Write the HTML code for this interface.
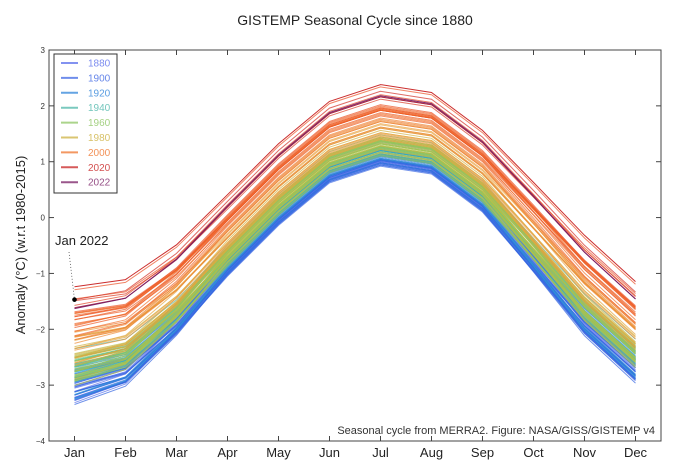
<!DOCTYPE html>
<html><head><meta charset="utf-8">
<style>
html,body{margin:0;padding:0;background:#fff;}
svg{display:block;font-family:"Liberation Sans","DejaVu Sans",sans-serif;}
</style></head>
<body>
<svg id="chart" width="695" height="470" viewBox="0 0 695 470" xmlns="http://www.w3.org/2000/svg">
<text x="355" y="25" text-anchor="middle" font-size="14" fill="#222">GISTEMP Seasonal Cycle since 1880</text>
<text transform="translate(25,245) rotate(-90)" text-anchor="middle" font-size="13" fill="#222">Anomaly (°C) (w.r.t 1980-2015)</text>
<g id="plot"></g>
</svg>
<script>
const months = ["Jan","Feb","Mar","Apr","May","Jun","Jul","Aug","Sep","Oct","Nov","Dec"];
const climatology = [-2.15,-1.95,-1.22,-0.25,0.66,1.42,1.72,1.58,0.9,-0.1,-1.12,-1.95];
const monthSensitivity = [1.35,1.25,1.1,1.0,1.0,1.0,1.0,1.0,1.0,1.1,1.2,1.2];
const firstYear = 1880;
const yearOffsets = [
-0.62,-0.58,-0.60,-0.68,-0.72,-0.70,-0.66,-0.74,-0.62,-0.50,
-0.68,-0.66,-0.72,-0.74,-0.70,-0.68,-0.55,-0.52,-0.70,-0.58,
-0.52,-0.60,-0.68,-0.74,-0.80,-0.66,-0.60,-0.76,-0.78,-0.76,
-0.74,-0.78,-0.70,-0.68,-0.50,-0.46,-0.68,-0.74,-0.64,-0.60,
-0.58,-0.52,-0.62,-0.60,-0.58,-0.52,-0.44,-0.52,-0.52,-0.66,
-0.46,-0.40,-0.48,-0.60,-0.46,-0.52,-0.46,-0.36,-0.36,-0.38,
-0.30,-0.28,-0.34,-0.34,-0.24,-0.34,-0.46,-0.48,-0.46,-0.48,
-0.58,-0.44,-0.40,-0.32,-0.54,-0.56,-0.62,-0.34,-0.36,-0.40,
-0.44,-0.36,-0.40,-0.36,-0.60,-0.54,-0.46,-0.44,-0.48,-0.34,
-0.40,-0.50,-0.42,-0.30,-0.50,-0.44,-0.56,-0.28,-0.38,-0.28,
-0.20,-0.16,-0.32,-0.12,-0.30,-0.32,-0.24,-0.10,-0.06,-0.20,
0.00,-0.04,-0.26,-0.22,-0.12,0.02,-0.10,0.06,0.22,0.04,
0.00,0.14,0.20,0.20,0.12,0.26,0.20,0.24,0.10,0.22,
0.28,0.16,0.20,0.24,0.30,0.44,0.62,0.48,0.40,0.54,
0.66,0.44,0.46];
const winterNoise = [
0.12,-0.18,0.05,0.20,-0.10,-0.22,0.08,0.15,-0.05,0.18,
-0.15,0.10,0.22,-0.08,0.04,-0.20,0.14,-0.12,0.06,0.19,
-0.09,0.16,-0.21,0.03,0.11,-0.14,0.21,-0.06,0.09,-0.17,
0.13,-0.04,0.18,-0.19,0.07,0.15,-0.11,0.02,-0.16,0.20,
-0.07,0.12,-0.18,0.09,-0.02,0.17,-0.13,0.06,0.14,-0.20,
0.10,-0.15,0.04,0.19,-0.08,0.13,-0.17,0.07,-0.03,0.16,
-0.12,0.18,-0.06,0.11,-0.19,0.05,0.14,-0.10,0.21,-0.04,
0.08,-0.16,0.15,-0.09,0.12,-0.02,0.17,-0.14,0.06,-0.18,
0.13,-0.07,0.19,-0.11,0.03,0.16,-0.15,0.09,-0.05,0.14,
-0.13,0.07,-0.18,0.12,-0.06,0.17,-0.10,0.04,0.15,-0.08,
0.11,-0.14,0.06,0.18,-0.09,0.13,-0.04,0.16,-0.12,0.08,
-0.05,0.15,-0.10,0.07,0.17,-0.13,0.10,-0.06,0.14,-0.09,
0.12,-0.08,0.16,-0.04,0.09,-0.14,0.13,0.05,-0.10,0.15,
-0.06,0.11,-0.09,0.14,-0.03,0.10,0.02,-0.07,0.12,-0.05,
0.02,-0.06,-0.10];
const legendYears = [1880,1900,1920,1940,1960,1980,2000,2020,2022];
const yTicks = [3,2,1,0,-1,-2,-3,-4];
const janHighlight = -1.47;

const NS="http://www.w3.org/2000/svg";
const plot=document.getElementById('plot');
const L=49,R=661,T=50,B=441,yMax=3,yMin=-4;
const xS=i=>L+(i+0.5)*(R-L)/12;
const yS=v=>T+(yMax-v)*(B-T)/(yMax-yMin);
function el(t,a,p){const e=document.createElementNS(NS,t);for(const k in a)e.setAttribute(k,a[k]);(p||plot).appendChild(e);return e;}
const stops=[[1880,[90,110,235]],[1910,[50,100,225]],[1930,[45,165,210]],[1950,[110,200,130]],[1970,[175,195,70]],[1990,[235,160,60]],[2003,[240,105,40]],[2016,[235,80,35]],[2020,[200,35,35]],[2022,[120,30,100]]];
function col(y){for(let i=0;i<stops.length-1;i++){const a=stops[i],b=stops[i+1];if(y<=b[0]){const t=(y-a[0])/(b[0]-a[0]);const c=a[1].map((v,k)=>Math.round(v+(b[1][k]-v)*t));return `rgb(${c})`;}}return 'rgb(120,30,100)';}
const winterWeight=[1,0.7,0.3,0,0,0,0,0,0,0.2,0.5,0.6];

const cp=el('clipPath',{id:'cp'});
el('rect',{x:L,y:T,width:R-L,height:B-T},cp);
const lines=el('g',{'clip-path':'url(#cp)'});


yearOffsets.forEach((o,i)=>{
  const yr=firstYear+i;
  const n=winterNoise[i]||0;
  const pts=climatology.map((c,m)=>xS(m).toFixed(1)+','+yS(c+o*monthSensitivity[m]+n*winterWeight[m]).toFixed(1)).join(' ');
  const pl=el('polyline',{points:pts,fill:'none',stroke:col(yr),'stroke-width':1,'stroke-opacity':yr>=2020?0.95:0.7},lines);
  
  
});
const fr=el('rect',{x:L,y:T,width:R-L,height:B-T,fill:'none',stroke:'#444','stroke-width':1});


yTicks.forEach(v=>{
  const y=yS(v);
  el('line',{x1:L,x2:L+5,y1:y,y2:y,stroke:'#444'});
  el('line',{x1:R,x2:R-5,y1:y,y2:y,stroke:'#444'});
  const t=el('text',{x:L-4,y:y+3,'text-anchor':'end','font-size':8,fill:'#333'});
  t.textContent=v<0?'\u2212'+(-v):String(v);
  
  
});
months.forEach((m,i)=>{
  const x=xS(i);
  el('line',{x1:x,x2:x,y1:B,y2:B-5,stroke:'#444'});
  el('line',{x1:x,x2:x,y1:T,y2:T+5,stroke:'#444'});
  const t=el('text',{x:x,y:457,'text-anchor':'middle','font-size':13,fill:'#222'});
  t.textContent=m;
  
  
});
const lg=el('g',{});


el('rect',{x:54,y:54,width:63,height:139,fill:'#fff',stroke:'#333','stroke-width':1},lg);
legendYears.forEach((y,i)=>{
  const yy=63+i*14.9;
  const g=el('g',{},lg);
  
  
  el('line',{x1:61,x2:78,y1:yy,y2:yy,stroke:col(y),'stroke-width':2,'stroke-opacity':0.75},g);
  const t=el('text',{x:88,y:yy+3.5,'font-size':10,fill:col(y),'fill-opacity':0.8},g);
  t.textContent=y;
});
const hx=xS(0),hy=yS(janHighlight);
const an=el('g',{});


el('line',{x1:69,y1:252,x2:hx,y2:hy,stroke:'#555','stroke-dasharray':'1,2','stroke-width':0.8},an);
el('circle',{cx:hx,cy:hy,r:2.3,fill:'#000'},an);
const at=el('text',{x:55,y:245,'font-size':13,fill:'#222'},an);
at.textContent='Jan 2022';
const ft=el('text',{x:655,y:434,'text-anchor':'end','font-size':11,fill:'#333'});
ft.textContent='Seasonal cycle from MERRA2. Figure: NASA/GISS/GISTEMP v4';


</script>
</body></html>
